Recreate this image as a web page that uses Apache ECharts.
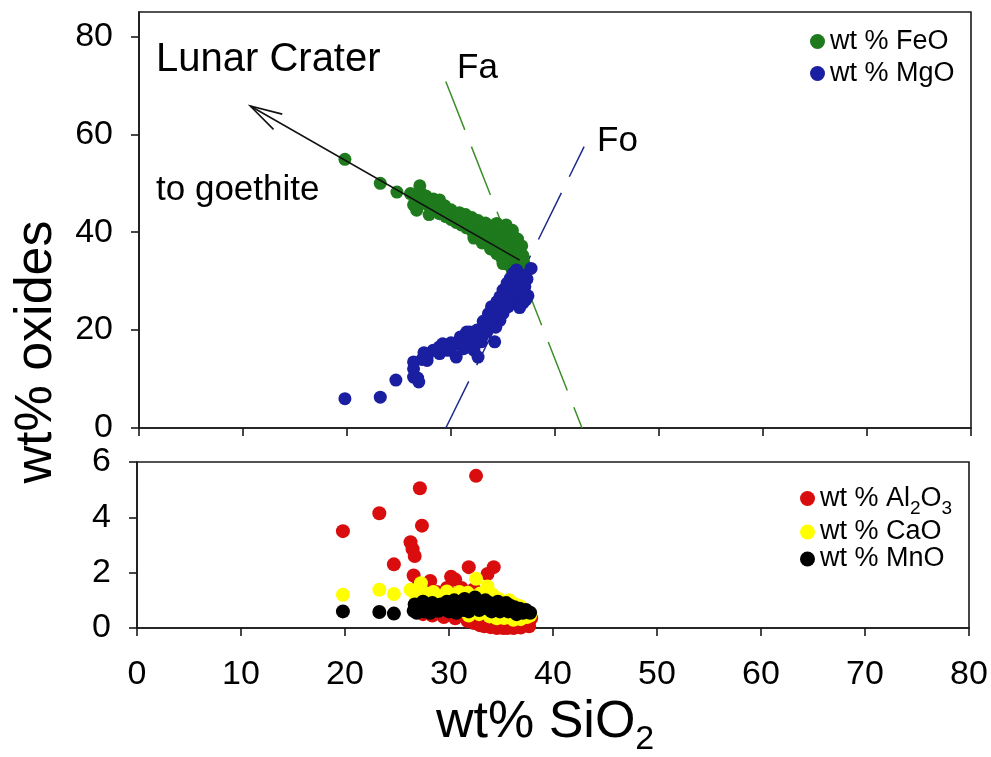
<!DOCTYPE html>
<html>
<head>
<meta charset="utf-8">
<script src="https://cdn.jsdelivr.net/npm/echarts@6/dist/echarts.min.js"></script>
<style>
  html, body { margin: 0; padding: 0; background: #ffffff; }
  #chart { width: 991px; height: 757px; }
</style>
</head>
<body>
<div id="chart"></div>
<script>
// Olivine alteration at Lunar Crater: oxide contents against SiO2 (wt%)

const FONT = '"Liberation Sans", Arial, Helvetica, sans-serif';

// tick labels
const xTicks = [0, 10, 20, 30, 40, 50, 60, 70, 80];
const yTopTicks = [0, 20, 40, 60, 80];
const yBottomTicks = [0, 2, 4, 6];

// series names
const nameFeO = 'wt % FeO';
const nameMgO = 'wt % MgO';
const nameAl = 'wt % Al2O3';
const nameCaO = 'wt % CaO';
const nameMnO = 'wt % MnO';

// upper panel: [SiO2, FeO]
const feo = [
  [19.8, 54.9], [23.2, 50.0], [24.8, 48.2], [27.0, 49.5], [26.1, 47.9], [26.6, 46.6], [26.7, 44.5],
  [27.5, 45.9], [27.3, 47.0], [27.8, 45.6], [28.2, 44.4], [28.5, 45.3], [28.9, 43.8], [29.2, 44.9],
  [29.5, 43.2], [29.7, 44.4], [30.0, 42.6], [30.2, 43.9], [30.5, 42.0], [30.7, 43.4], [31.0, 41.5],
  [31.2, 42.9], [31.5, 40.9], [31.7, 42.4], [32.0, 40.3], [32.2, 41.8], [32.5, 39.7], [32.7, 41.3],
  [33.0, 39.2], [33.2, 40.8], [33.5, 38.6], [33.7, 40.2], [34.0, 38.0], [34.2, 39.6], [34.4, 37.2],
  [34.6, 40.4], [34.7, 38.8], [34.8, 36.4], [35.0, 41.0], [35.1, 39.6], [35.2, 37.8], [35.3, 35.2],
  [35.5, 40.2], [35.6, 38.6], [35.7, 36.7], [35.8, 34.3], [36.0, 39.2], [36.1, 37.6], [36.2, 35.6],
  [36.3, 33.4], [36.5, 36.4], [36.6, 34.6], [36.7, 32.4], [36.9, 35.3], [37.0, 31.6], [37.2, 30.8],
  [36.8, 30.6], [35.5, 33.4], [34.4, 35.6], [34.9, 34.6], [36.4, 31.8],
  [28.0, 46.0], [28.7, 45.8], [29.4, 45.4], [30.0, 44.6], [30.8, 44.0], [31.4, 43.6], [32.0, 43.0],
  [32.6, 42.4], [33.3, 41.9], [34.0, 41.3], [34.4, 41.8], [35.3, 41.5], [35.9, 40.4], [36.4, 38.6],
  [36.8, 37.2], [37.0, 33.8], [37.3, 32.4], [36.5, 30.2], [35.9, 32.2], [35.0, 33.6], [33.8, 36.6],
  [33.0, 37.8], [32.2, 38.8], [27.1, 48.0], [26.4, 45.6],
  [27.6, 47.4], [28.3, 46.8], [28.9, 46.6], [27.9, 43.6]
];

// upper panel: [SiO2, MgO]
const mgo = [
  [19.8, 6.0], [23.2, 6.3], [24.7, 9.8], [26.4, 13.5], [26.4, 12.1], [26.4, 10.4], [26.9, 9.4],
  [26.8, 10.2], [27.7, 14.5], [27.7, 13.8], [28.3, 15.9], [28.9, 16.6], [28.9, 15.2], [29.6, 15.9],
  [29.9, 15.9], [30.2, 16.9], [30.5, 14.5], [30.9, 18.6], [31.2, 16.2], [31.5, 17.9], [31.5, 19.6],
  [31.8, 19.6], [32.2, 15.9], [32.3, 17.3], [32.5, 20.0], [32.6, 14.5], [32.9, 17.6], [33.3, 21.3],
  [33.4, 19.6], [33.6, 23.4], [33.9, 24.8], [34.1, 21.3], [34.2, 17.6], [34.4, 25.8], [34.7, 26.8],
  [34.7, 22.0], [35.0, 28.2], [35.0, 23.4], [35.4, 29.6], [35.5, 24.8], [35.7, 30.6], [36.0, 31.6],
  [36.0, 26.1], [36.1, 29.6], [36.3, 32.3], [36.3, 27.5], [36.6, 31.3], [36.6, 28.2], [36.8, 29.9],
  [36.9, 27.5], [36.9, 25.5], [37.1, 28.9], [37.7, 32.6],
  [33.0, 18.6], [33.5, 22.4], [34.0, 23.0], [34.5, 24.2], [35.2, 26.0], [35.8, 27.6], [36.4, 30.0],
  [36.9, 31.2], [37.3, 30.4], [37.4, 27.0], [36.6, 24.6], [37.2, 26.2], [35.6, 28.8], [34.9, 25.2],
  [34.3, 20.6], [33.1, 21.8], [32.0, 18.4], [31.0, 17.2], [30.0, 17.4], [29.2, 17.2], [28.6, 16.0],
  [27.4, 15.4], [27.2, 14.0]
];

// lower panel: [SiO2, Al2O3]
const al2o3 = [
  [19.8, 3.5], [23.3, 4.15], [24.7, 2.3], [27.2, 5.05], [27.4, 3.7], [26.3, 3.1], [26.5, 2.85],
  [26.7, 2.6], [26.6, 1.9], [28.2, 1.7], [30.2, 1.85], [30.6, 1.75], [31.9, 2.2], [32.6, 5.5],
  [34.3, 2.2], [33.7, 1.95], [32.4, 1.4], [31.2, 1.45], [27.0, 1.5], [28.8, 1.3], [29.8, 1.45],
  [31.8, 0.25], [32.4, 0.18], [33.0, 0.1], [33.4, 0.06], [34.0, 0.03], [34.6, 0.0], [35.2, 0.0],
  [35.6, 0.0], [36.2, 0.0], [36.9, 0.02], [37.7, 0.06], [37.9, 0.35], [33.1, 0.3], [34.4, 0.2],
  [35.0, 0.15], [36.5, 0.12], [27.5, 0.5], [28.4, 0.45], [29.5, 0.4], [30.6, 0.35]
];

// lower panel: [SiO2, CaO]
const cao = [
  [19.8, 1.2], [23.3, 1.38], [24.7, 1.23], [26.3, 1.38], [26.6, 1.3], [27.3, 1.62], [26.9, 1.1],
  [27.8, 1.25], [28.5, 1.3], [29.0, 1.15], [29.8, 1.32], [30.4, 1.2], [31.0, 1.3], [31.8, 1.27],
  [32.2, 1.15], [32.6, 1.78], [33.0, 1.25], [33.7, 1.5], [34.2, 1.2], [34.8, 1.05], [35.3, 0.95],
  [35.8, 1.0], [36.4, 0.85], [36.9, 0.78], [37.4, 0.6], [37.8, 0.45], [33.9, 0.42], [34.6, 0.35],
  [35.3, 0.36], [36.2, 0.3], [36.9, 0.32], [37.5, 0.4], [32.9, 0.5], [31.9, 0.45]
];

// lower panel: [SiO2, MnO]
const mno = [
  [19.8, 0.6], [23.3, 0.58], [24.7, 0.52], [26.6, 0.62], [26.7, 0.85], [26.9, 0.55], [27.2, 0.75],
  [27.5, 0.95], [27.6, 0.6], [27.9, 0.8], [28.2, 0.55], [28.4, 0.9], [28.7, 0.7], [29.0, 0.62],
  [29.2, 0.85], [29.5, 0.7], [29.8, 0.95], [30.0, 0.6], [30.2, 0.8], [30.5, 1.0], [30.7, 0.55],
  [30.9, 0.75], [31.1, 0.95], [31.3, 0.65], [31.5, 1.05], [31.7, 0.85], [31.9, 0.6], [32.1, 0.95],
  [32.3, 0.75], [32.5, 1.1], [32.7, 0.85], [32.9, 0.65], [33.1, 0.95], [33.3, 0.8], [33.5, 1.0],
  [33.7, 0.7], [33.9, 0.9], [34.1, 0.6], [34.3, 0.85], [34.5, 0.75], [34.7, 0.95], [34.9, 0.6],
  [35.1, 0.8], [35.3, 0.7], [35.5, 0.9], [35.7, 0.6], [35.9, 0.8], [36.1, 0.65], [36.3, 0.75],
  [36.5, 0.5], [36.8, 0.7], [37.1, 0.55], [37.4, 0.65], [37.8, 0.55]
];

// end-member trends (fayalite, forsterite) and the weathering trend toward goethite
const faLine = [[29.5, 70.8], [42.6, 0]];
const foLine = [[29.5, 0], [42.8, 57.5]];
const goethiteArrow = [[36.6, 34.3, 10.7, 65.8]];

const GREEN = '#1e7a1c';
const BLUE = '#1a1ea0';
const RED = '#d90d0d';
const YELLOW = '#ffff00';
const BLACK = '#000000';
const AXIS = '#1a1a1a';

function axisCommon() {
  return {
    axisLine: { show: true, onZero: false, lineStyle: { color: AXIS, width: 1.6 } },
    axisTick: { show: true, inside: false, length: 8, lineStyle: { color: AXIS, width: 1.6 } },
    splitLine: { show: false },
    axisLabel: { color: '#000', fontSize: 34, fontFamily: FONT }
  };
}

const chart = echarts.init(document.getElementById('chart'), null, { renderer: 'canvas' });

// subscripts sit on the line bottom with a short box so they drop below the baseline
const legendText = {
  color: '#000', fontFamily: FONT, fontSize: 27,
  rich: {
    t: { fontSize: 27, lineHeight: 29, fontFamily: FONT, color: '#000' },
    s: { fontSize: 19, lineHeight: 8, height: 8, verticalAlign: 'bottom', fontFamily: FONT, color: '#000' }
  }
};

const option = {
  backgroundColor: '#ffffff',
  animation: false,
  grid: [
    { left: 139, top: 12, width: 832, height: 416, show: true, borderColor: AXIS, borderWidth: 1.6, backgroundColor: 'transparent' },
    { left: 137, top: 462, width: 832, height: 166, show: true, borderColor: AXIS, borderWidth: 1.6, backgroundColor: 'transparent' }
  ],
  xAxis: [
    Object.assign(axisCommon(), { type: 'value', gridIndex: 0, min: 0, max: 80, interval: 10 }),
    Object.assign(axisCommon(), { type: 'value', gridIndex: 1, min: 0, max: 80, interval: 10 })
  ],
  yAxis: [
    Object.assign(axisCommon(), { type: 'value', gridIndex: 0, min: 0, max: 85, interval: 20 }),
    Object.assign(axisCommon(), { type: 'value', gridIndex: 1, min: 0, max: 6, interval: 2 })
  ],
  legend: [
    {
      data: [nameFeO, nameMgO], orient: 'vertical', left: 810, top: 28, padding: 0,
      icon: 'circle', itemWidth: 15, itemHeight: 15, itemGap: 5,
      formatter: n => '{t|' + n + '}', textStyle: legendText, selectedMode: false
    },
    {
      data: [nameAl, nameCaO, nameMnO], orient: 'vertical', left: 800, top: 485, padding: 0,
      icon: 'circle', itemWidth: 15, itemHeight: 15, itemGap: 0,
      formatter: n => (n === nameAl ? '{t|wt % Al}{s|2}{t|O}{s|3}' : '{t|' + n + '}'),
      textStyle: legendText, selectedMode: false
    }
  ],
  graphic: [
    { type: 'text', x: 37, y: 352, rotation: Math.PI / 2,
      style: { text: 'wt% oxides', fontSize: 52, fontFamily: FONT, fill: '#000', align: 'center', verticalAlign: 'middle' } },
    { type: 'text', x: 436, y: 723,
      style: {
        text: '{m|wt% SiO}{s|2}', verticalAlign: 'middle', align: 'left',
        rich: {
          m: { fontSize: 52, lineHeight: 52, fontFamily: FONT, fill: '#000' },
          s: { fontSize: 34, lineHeight: 18, height: 18, verticalAlign: 'bottom', fontFamily: FONT, fill: '#000' }
        }
      } },
    { type: 'text', x: 156, y: 60,
      style: { text: 'Lunar Crater', fontSize: 40, fontFamily: FONT, fill: '#000', align: 'left', verticalAlign: 'middle' } },
    { type: 'text', x: 156, y: 190,
      style: { text: 'to goethite', fontSize: 35, fontFamily: FONT, fill: '#000', align: 'left', verticalAlign: 'middle' } },
    { type: 'text', x: 457, y: 68,
      style: { text: 'Fa', fontSize: 35, fontFamily: FONT, fill: '#000', align: 'left', verticalAlign: 'middle' } },
    { type: 'text', x: 597, y: 141,
      style: { text: 'Fo', fontSize: 35, fontFamily: FONT, fill: '#000', align: 'left', verticalAlign: 'middle' } }
  ],
  series: [
    { name: 'Fa', type: 'line', xAxisIndex: 0, yAxisIndex: 0, data: faLine, symbol: 'none', silent: true,
      lineStyle: { color: '#3d8f2a', width: 1.5, type: [52, 18] }, z: 1 },
    { name: 'Fo', type: 'line', xAxisIndex: 0, yAxisIndex: 0, data: foLine, symbol: 'none', silent: true,
      lineStyle: { color: '#1f2a8c', width: 1.5, type: [52, 18] }, z: 1 },
    { name: nameFeO, type: 'scatter', xAxisIndex: 0, yAxisIndex: 0, data: feo, symbolSize: 13, clip: false,
      itemStyle: { color: GREEN, opacity: 1 }, z: 2 },
    { name: nameMgO, type: 'scatter', xAxisIndex: 0, yAxisIndex: 0, data: mgo, symbolSize: 13, clip: false,
      itemStyle: { color: BLUE, opacity: 1 }, z: 3 },
    {
      name: 'goethite trend', type: 'custom', xAxisIndex: 0, yAxisIndex: 0, data: goethiteArrow, silent: true, z: 4,
      encode: { x: [0, 2], y: [1, 3] },
      renderItem: function (params, api) {
        const p0 = api.coord([api.value(0), api.value(1)]);
        const p1 = api.coord([api.value(2), api.value(3)]);
        const ang = Math.atan2(p0[1] - p1[1], p0[0] - p1[0]);
        const len = 33, spread = 15.5 * Math.PI / 180;
        const b1 = [p1[0] + len * Math.cos(ang + spread), p1[1] + len * Math.sin(ang + spread)];
        const b2 = [p1[0] + len * Math.cos(ang - spread), p1[1] + len * Math.sin(ang - spread)];
        return {
          type: 'group',
          children: [
            { type: 'line', shape: { x1: p0[0], y1: p0[1], x2: p1[0], y2: p1[1] },
              style: { stroke: '#111', lineWidth: 1.6 } },
            { type: 'polyline', shape: { points: [b1, p1, b2] },
              style: { stroke: '#111', lineWidth: 1.6, fill: null } }
          ]
        };
      }
    },
    { name: nameAl, type: 'scatter', xAxisIndex: 1, yAxisIndex: 1, data: al2o3, symbolSize: 14, clip: false,
      itemStyle: { color: RED, opacity: 1 }, z: 2 },
    { name: nameCaO, type: 'scatter', xAxisIndex: 1, yAxisIndex: 1, data: cao, symbolSize: 14, clip: false,
      itemStyle: { color: YELLOW, opacity: 1 }, z: 3 },
    { name: nameMnO, type: 'scatter', xAxisIndex: 1, yAxisIndex: 1, data: mno, symbolSize: 14, clip: false,
      itemStyle: { color: BLACK, opacity: 1 }, z: 4 }
  ]
};

// label placement per axis
option.xAxis[0].axisLabel = { show: false };
option.xAxis[1].axisLabel = Object.assign(option.xAxis[1].axisLabel, { margin: 30, customValues: xTicks });
option.xAxis[1].axisTick.customValues = xTicks;
option.xAxis[0].axisTick.customValues = xTicks;
option.yAxis[0].axisLabel = Object.assign(option.yAxis[0].axisLabel, { margin: 26, customValues: yTopTicks });
option.yAxis[0].axisTick.customValues = yTopTicks;
option.yAxis[1].axisLabel = Object.assign(option.yAxis[1].axisLabel, { margin: 26, customValues: yBottomTicks });
option.yAxis[1].axisTick.customValues = yBottomTicks;

chart.setOption(option);
</script>
</body>
</html>
